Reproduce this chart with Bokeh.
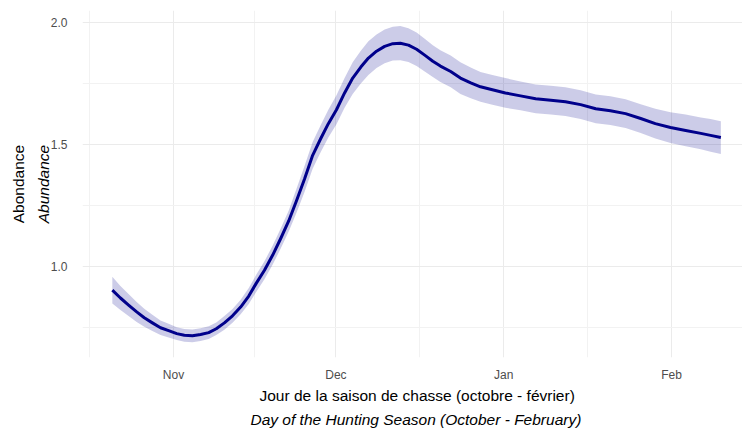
from bokeh.plotting import figure
from bokeh.models import FixedTicker, Range1d, Title
from bokeh.embed import file_html
from bokeh.resources import INLINE

# Day of season counted from 1 October
days = [19.7, 21.2, 22.7, 24.2, 25.6, 27.1, 28.6, 30.1, 31.6, 33.0, 34.5, 36.0,
        37.5, 38.9, 40.4, 41.9, 43.4, 44.9, 46.3, 47.8, 49.3, 50.8, 52.3, 53.7,
        55.2, 56.7, 58.2, 59.6, 61.1, 62.6, 64.1, 65.6, 67.0, 68.5, 70.0, 71.5,
        72.9, 74.4, 75.9, 77.4, 78.9, 80.3, 82.2, 84.0, 85.9, 87.7, 89.9, 92.3,
        95.1, 97.9, 100.7, 103.4, 106.2, 109.0, 111.7, 114.5, 117.3, 120.0,
        122.8, 125.6, 128.4, 130.2, 132.1]
abundance = [0.902, 0.870, 0.841, 0.813, 0.789, 0.768, 0.748, 0.736, 0.724, 0.717,
             0.715, 0.720, 0.728, 0.744, 0.768, 0.797, 0.833, 0.878, 0.931, 0.984,
             1.045, 1.114, 1.187, 1.268, 1.358, 1.455, 1.524, 1.585, 1.642, 1.711,
             1.772, 1.817, 1.854, 1.882, 1.902, 1.913, 1.915, 1.907, 1.890, 1.866,
             1.841, 1.821, 1.799, 1.772, 1.752, 1.736, 1.724, 1.711, 1.699, 1.687,
             1.681, 1.675, 1.663, 1.646, 1.638, 1.626, 1.606, 1.585, 1.569, 1.557,
             1.545, 1.537, 1.528]
ci_low = [0.847, 0.821, 0.796, 0.772, 0.752, 0.735, 0.718, 0.708, 0.698, 0.691,
          0.689, 0.694, 0.702, 0.718, 0.740, 0.769, 0.803, 0.845, 0.896, 0.947,
          1.006, 1.073, 1.144, 1.219, 1.305, 1.400, 1.469, 1.528, 1.583, 1.650,
          1.707, 1.750, 1.785, 1.813, 1.833, 1.844, 1.845, 1.838, 1.821, 1.799,
          1.776, 1.756, 1.734, 1.707, 1.689, 1.675, 1.663, 1.650, 1.640, 1.628,
          1.622, 1.616, 1.604, 1.587, 1.579, 1.567, 1.547, 1.524, 1.506, 1.492,
          1.480, 1.470, 1.461]
ci_high = [0.957, 0.919, 0.886, 0.854, 0.826, 0.801, 0.778, 0.764, 0.750, 0.743,
           0.741, 0.746, 0.754, 0.770, 0.796, 0.825, 0.863, 0.911, 0.966, 1.021,
           1.084, 1.155, 1.230, 1.317, 1.411, 1.510, 1.579, 1.642, 1.701, 1.772,
           1.837, 1.884, 1.923, 1.951, 1.971, 1.982, 1.985, 1.976, 1.959, 1.933,
           1.906, 1.886, 1.864, 1.837, 1.815, 1.797, 1.785, 1.772, 1.758, 1.746,
           1.740, 1.734, 1.722, 1.705, 1.697, 1.685, 1.665, 1.646, 1.632, 1.622,
           1.610, 1.604, 1.595]

month_ticks = [31, 61, 92, 123]
month_labels = ["Nov", "Dec", "Jan", "Feb"]
month_minor = [15.5, 46, 76.5, 107.5]
y_ticks = [1.0, 1.5, 2.0]
y_minor = [0.75, 1.25, 1.75]

FONT = "Liberation Sans"

p = figure(width=742, height=432, output_backend="svg", toolbar_location=None,
           x_range=Range1d(14.19, 136.1), y_range=Range1d(0.626, 2.049),
           min_border_left=82, min_border_right=0, min_border_top=10,
           min_border_bottom=72)
p.outline_line_color = None
p.background_fill_color = "white"

p.varea(x=days, y1=ci_low, y2=ci_high, fill_color="#00008B", fill_alpha=0.2)
p.line(x=days, y=abundance, line_color="#00008B", line_width=3,
       line_join="round")

# axes
p.xaxis.ticker = FixedTicker(ticks=month_ticks, minor_ticks=month_minor)
p.xaxis.major_label_overrides = {t: l for t, l in zip(month_ticks, month_labels)}
p.yaxis.ticker = FixedTicker(ticks=y_ticks, minor_ticks=y_minor)
p.yaxis.major_label_overrides = {t: f"{t:.1f}" for t in y_ticks}
for ax in (p.xaxis[0], p.yaxis[0]):
    ax.axis_line_color = None
    ax.major_tick_line_color = None
    ax.minor_tick_line_color = None
    ax.major_label_text_font = FONT
    ax.major_label_text_font_size = "12px"
    ax.major_label_text_color = "#4d4d4d"
    ax.axis_label_text_font = FONT
    ax.axis_label_text_font_size = "15.5px"
    ax.axis_label_text_color = "black"
p.yaxis.major_label_standoff = 9
p.xaxis.major_label_standoff = 4

p.yaxis.axis_label = "Abundance"
p.yaxis.axis_label_text_font_style = "italic"
p.yaxis.axis_label_standoff = -4

for g in (p.xgrid[0], p.ygrid[0]):
    g.grid_line_color = "#ebebeb"
    g.grid_line_width = 1
    g.minor_grid_line_color = "#f2f2f2"
    g.minor_grid_line_width = 1

p.add_layout(Title(text="Abondance", align="center", text_font=FONT,
                   text_font_size="15.5px", text_font_style="normal",
                   text_color="black", standoff=10), "left")
p.add_layout(Title(text="Jour de la saison de chasse (octobre - février)",
                   align="left", offset=177, text_font=FONT,
                   text_font_size="15.5px", text_font_style="normal",
                   text_color="black", standoff=0), "below")
p.add_layout(Title(text="Day of the Hunting Season (October - February)",
                   align="left", offset=168, text_font=FONT,
                   text_font_size="15.5px", text_font_style="italic",
                   text_color="black", standoff=10), "below")

open("out.html", "w").write(file_html(p, INLINE))
